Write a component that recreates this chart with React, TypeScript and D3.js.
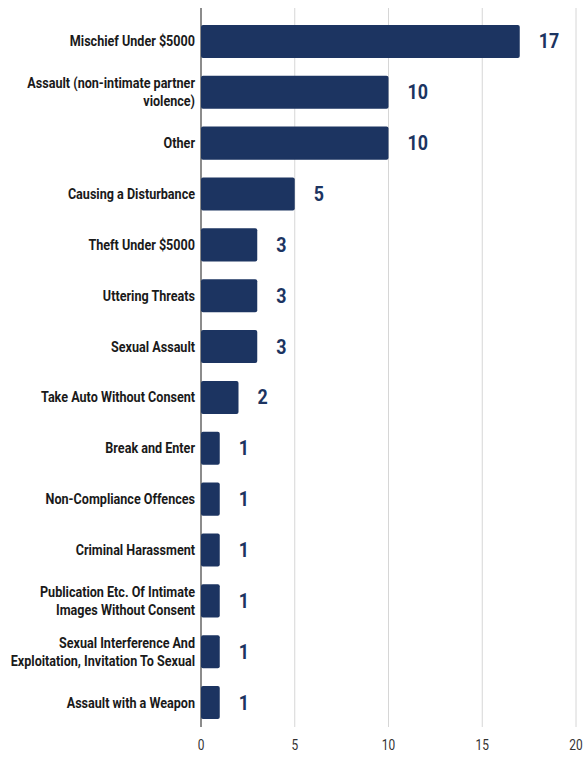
import React from "react";
import * as d3 from "d3";

const categories: string[][] = [
  ["Mischief Under $5000"],
  ["Assault (non-intimate partner", "violence)"],
  ["Other"],
  ["Causing a Disturbance"],
  ["Theft Under $5000"],
  ["Uttering Threats"],
  ["Sexual Assault"],
  ["Take Auto Without Consent"],
  ["Break and Enter"],
  ["Non-Compliance Offences"],
  ["Criminal Harassment"],
  ["Publication Etc. Of Intimate", "Images Without Consent"],
  ["Sexual Interference And", "Exploitation, Invitation To Sexual"],
  ["Assault with a Weapon"],
];
const values: number[] = [17, 10, 10, 5, 3, 3, 3, 2, 1, 1, 1, 1, 1, 1];
const xTicks: number[] = [0, 5, 10, 15, 20];

const W = 585;
const H = 765;
const FONT = "Roboto, 'Noto Sans', sans-serif";
const NAVY = "#1c3461";

export default function App() {
  const x = d3.scaleLinear().domain([0, 20]).range([201, 576]);
  const keys = categories.map((_, i) => String(i));
  const y = d3
    .scaleBand<string>()
    .domain(keys)
    .range([16, 728])
    .paddingInner(0.35)
    .paddingOuter(0.175);
  const gridTop = 8;
  const gridBottom = 727;

  return (
    <svg
      width={W}
      height={H}
      style={{ position: "absolute", left: 0, top: 0, background: "#fff" }}
    >
      {xTicks.map((t) => (
        <line
          key={"g" + t}
          x1={x(t)}
          x2={x(t)}
          y1={gridTop}
          y2={gridBottom}
          stroke={t === 0 ? "#666" : "#d6d6d6"}
          strokeWidth={t === 0 ? 1.5 : 1}
        />
      ))}
      {xTicks.map((t) => (
        <text
          key={"t" + t}
          x={0}
          y={0}
          transform={`translate(${x(t)},750) scale(0.85,1)`}
          textAnchor="middle"
          fontFamily={FONT}
          fontSize={14}
          fill="#333"
        >
          {t}
        </text>
      ))}
      {values.map((v, i) => {
        const yy = y(String(i))!;
        const bh = y.bandwidth();
        return (
          <g key={"b" + i}>
            <rect
              x={x(0)}
              y={yy}
              width={x(v) - x(0)}
              height={bh}
              rx={2}
              fill={NAVY}
            />
            <text
              x={0}
              y={0}
              transform={`translate(${x(v) + 19},${yy + bh / 2 + 7}) scale(0.85,1)`}
              fontFamily={FONT}
              fontWeight={700}
              fontSize={21}
              fill={NAVY}
            >
              {v}
            </text>
          </g>
        );
      })}
      {categories.map((lines, i) => {
        const cy = y(String(i))! + y.bandwidth() / 2;
        const lh = 18;
        const start = cy - ((lines.length - 1) * lh) / 2 + 5;
        return (
          <g key={"c" + i}>
            {lines.map((ln, j) => (
              <text
                key={j}
                x={0}
                y={0}
                transform={`translate(195,${start + j * lh}) scale(0.9,1)`}
                textAnchor="end"
                fontFamily={FONT}
                fontWeight={700}
                fontSize={14}
                fill="#1a1a1a"
              >
                {ln}
              </text>
            ))}
          </g>
        );
      })}
    </svg>
  );
}
